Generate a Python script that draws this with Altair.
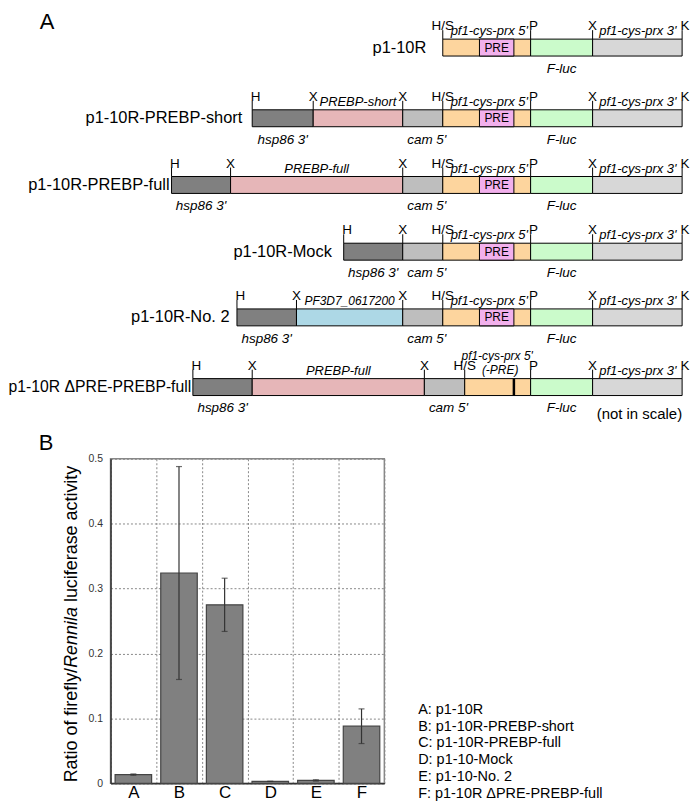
import altair as alt
import pandas as pd

FONT = "Liberation Sans"

# ---------------- Panel A: construct maps ----------------
constructs = ["p1-10R", "p1-10R-PREBP-short", "p1-10R-PREBP-full",
              "p1-10R-Mock", "p1-10R-No. 2", "p1-10R \u0394PRE-PREBP-full"]
row_top = [33.5, 104.5, 171.5, 238.5, 304.5, 374.5]
name_end = [430, 243, 169, 334, 230, 191]

seg_row = [0, 0, 0, 0,
           1, 1, 1, 1, 1, 1, 1,
           2, 2, 2, 2, 2, 2, 2,
           3, 3, 3, 3, 3, 3,
           4, 4, 4, 4, 4, 4, 4,
           5, 5, 5, 5, 5, 5]
seg_start = [446.7, 484, 536, 599,
             253, 315, 406, 446.7, 484, 536, 599,
             171, 231, 406, 446.7, 484, 536, 599,
             346, 406, 446.7, 484, 536, 599,
             237.5, 298, 406, 446.7, 484, 536, 599,
             192.7, 253, 428, 469, 536, 599]
seg_end = [536, 519, 599, 690,
           315, 406, 446.7, 536, 519, 599, 690,
           231, 406, 446.7, 536, 519, 599, 690,
           406, 446.7, 536, 519, 599, 690,
           298, 406, 446.7, 536, 519, 599, 690,
           253, 428, 469, 536, 599, 690]
seg_part = ["prx5", "PRE", "Fluc", "prx3",
            "hsp86", "PREBP", "cam", "prx5", "PRE", "Fluc", "prx3",
            "hsp86", "PREBP", "cam", "prx5", "PRE", "Fluc", "prx3",
            "hsp86", "cam", "prx5", "PRE", "Fluc", "prx3",
            "hsp86", "PF3D7", "cam", "prx5", "PRE", "Fluc", "prx3",
            "hsp86", "PREBP", "cam", "prx5", "Fluc", "prx3"]
part_names = ["prx5", "PRE", "Fluc", "prx3", "hsp86", "PREBP", "cam", "PF3D7"]
part_colors = ["#FDD59E", "#F2B0EC", "#CBFBCB", "#D7D7D7",
               "#808080", "#E6B6B8", "#BEBEBE", "#ADD8E6"]

site_row = [0, 0, 0, 0,
            1, 1, 1, 1, 1, 1, 1,
            2, 2, 2, 2, 2, 2, 2,
            3, 3, 3, 3, 3, 3,
            4, 4, 4, 4, 4, 4, 4,
            5, 5, 5, 5, 5, 5, 5]
site_x = [446.7, 536, 599, 690,
          253, 315, 406, 446.7, 536, 599, 690,
          171, 231, 406, 446.7, 536, 599, 690,
          346, 406, 446.7, 536, 599, 690,
          237.5, 298, 406, 446.7, 536, 599, 690,
          192.7, 253, 428, 469, 536, 599, 690]
site_label = ["H/S", "P", "X", "K",
              "H", "X", "X", "H/S", "P", "X", "K",
              "H", "X", "X", "H/S", "P", "X", "K",
              "H", "X", "H/S", "P", "X", "K",
              "H", "X", "X", "H/S", "P", "X", "K",
              "H", "X", "X", "H/S", "P", "X", "K"]

above_row = [0, 0, 1, 1, 1, 2, 2, 2, 3, 3, 4, 4, 4, 5, 5, 5, 5]
above_x = [494, 645, 360.5, 494, 645, 318.5, 494, 645,
           494, 645, 352, 494, 645, 340.5, 502, 505, 645]
above_text = ["pf1-cys-prx 5'", "pf1-cys-prx 3'",
              "PREBP-short", "pf1-cys-prx 5'", "pf1-cys-prx 3'",
              "PREBP-full", "pf1-cys-prx 5'", "pf1-cys-prx 3'",
              "pf1-cys-prx 5'", "pf1-cys-prx 3'",
              "PF3D7_0617200", "pf1-cys-prx 5'", "pf1-cys-prx 3'",
              "PREBP-full", "pf1-cys-prx 5'", "(-PRE)", "pf1-cys-prx 3'"]
above_tier = [0, 0, 0, 0, 0, 0, 0, 0, 0, 0, 0, 0, 0, 0, 2, 1, 0]

below_row = [0, 1, 1, 1, 2, 2, 2, 3, 3, 3, 4, 4, 4, 5, 5, 5]
below_x = [567.5, 284, 430.5, 567.5, 201, 430.5, 567.5, 376, 430.5, 567.5,
           267.7, 430.5, 567.5, 222.9, 452.5, 567.5]
below_text = ["F-luc", "hsp86 3'", "cam 5'", "F-luc", "hsp86 3'", "cam 5'", "F-luc",
              "hsp86 3'", "cam 5'", "F-luc", "hsp86 3'", "cam 5'", "F-luc",
              "hsp86 3'", "cam 5'", "F-luc"]

junction_row = [5]
junction_x = [519]

# ---------------- Panel B: luciferase ratio ----------------
cats = ["A", "B", "C", "D", "E", "F"]
means = [0.0135, 0.324, 0.275, 0.003, 0.0045, 0.088]
errs = [0.001, 0.164, 0.041, 0.0, 0.001, 0.0267]
legend_lines = ["A: p1-10R", "B: p1-10R-PREBP-short", "C: p1-10R-PREBP-full",
                "D: p1-10-Mock", "E: p1-10-No. 2", "F: p1-10R \u0394PRE-PREBP-full"]
ytitle_parts = ["Ratio of firefly/", "Rennila", "luciferase activity"]

# ---------------- layout constants ----------------
ORIG_X = 109          # page x of both panels' origin (bar-plot left edge)
BAR_H = 17
H_TOP = 416
W_TOP = 581
xs = alt.Scale(domain=[ORIG_X, 697], nice=False, zero=False)
ys = alt.Scale(domain=[8, 8 + H_TOP], nice=False, zero=False, reverse=True)


def X(f):
    return alt.X(f, scale=xs, axis=None)


def Y(f):
    return alt.Y(f, scale=ys, axis=None)


seg_df = pd.DataFrame({"row": seg_row, "x0": seg_start, "x1": seg_end, "part": seg_part})
seg_df["y0"] = [row_top[r] for r in seg_row]
seg_df["y1"] = seg_df["y0"] + BAR_H

pre_df = seg_df[seg_df["part"] == "PRE"].copy()
pre_df["xc"] = (pre_df["x0"] + pre_df["x1"]) / 2
pre_df["yc"] = pre_df["y0"] + BAR_H / 2

site_df = pd.DataFrame({"row": site_row, "x": site_x, "label": site_label})
site_df["yb"] = [row_top[r] for r in site_row]
site_df["yt"] = site_df["yb"] - 9
site_df["left"] = site_df["label"].isin(["H", "P", "K"])

tier_off = {0: 4, 1: 5, 2: 19}
above_df = pd.DataFrame({"row": above_row, "x": above_x, "text": above_text, "tier": above_tier})
above_df["y"] = [row_top[r] - tier_off[t] for r, t in zip(above_row, above_tier)]
above_df["small"] = (above_df["text"].str.startswith("PF3D7")) | (above_df["tier"] > 0)

below_df = pd.DataFrame({"row": below_row, "x": below_x, "text": below_text})
below_df["y"] = [row_top[r] + BAR_H + 17 for r in below_row]

jun_df = pd.DataFrame({"x": junction_x, "y0": [row_top[r] for r in junction_row]})
jun_df["y1"] = jun_df["y0"] + BAR_H

name_df = pd.DataFrame({"x": name_end, "text": constructs,
                        "y": [t + BAR_H / 2 for t in row_top]})
name_df["small"] = name_df["text"].str.contains("\u0394")

annot_df = pd.DataFrame({"x": [37], "y": [23], "text": ["A"]})
note_df = pd.DataFrame({"x": [690], "y": [415], "text": ["(not in scale)"]})

rects = alt.Chart(seg_df).mark_rect(stroke="black", strokeWidth=1).encode(
    x=X("x0:Q"), x2="x1", y=Y("y0:Q"), y2="y1",
    color=alt.Color("part:N", scale=alt.Scale(domain=part_names, range=part_colors), legend=None))
pre_txt = alt.Chart(pre_df).mark_text(text="PRE", fontSize=12, baseline="middle", font=FONT).encode(
    x=X("xc:Q"), y=Y("yc:Q"))
jun = alt.Chart(jun_df).mark_rule(color="black", strokeWidth=2.5).encode(
    x=X("x:Q"), y=Y("y0:Q"), y2="y1")
ticks = alt.Chart(site_df).mark_rule(color="black", strokeWidth=1).encode(
    x=X("x:Q"), y=Y("yt:Q"), y2="yb")
site_l = alt.Chart(site_df[site_df["left"]]).mark_text(
    align="left", baseline="alphabetic", dx=-1.5, fontSize=13.5, font=FONT).encode(
    x=X("x:Q"), y=Y("yt:Q"), text="label:N")
site_c = alt.Chart(site_df[~site_df["left"]]).mark_text(
    align="center", baseline="alphabetic", fontSize=13.5, font=FONT).encode(
    x=X("x:Q"), y=Y("yt:Q"), text="label:N")
above_n = alt.Chart(above_df[~above_df["small"]]).mark_text(
    align="center", baseline="alphabetic", fontSize=13, fontStyle="italic", font=FONT).encode(
    x=X("x:Q"), y=Y("y:Q"), text="text:N")
above_s = alt.Chart(above_df[above_df["small"]]).mark_text(
    align="center", baseline="alphabetic", fontSize=12, fontStyle="italic", font=FONT).encode(
    x=X("x:Q"), y=Y("y:Q"), text="text:N")
below = alt.Chart(below_df).mark_text(
    align="center", baseline="alphabetic", fontSize=13.5, fontStyle="italic", font=FONT).encode(
    x=X("x:Q"), y=Y("y:Q"), text="text:N")
names_n = alt.Chart(name_df[~name_df["small"]]).mark_text(
    align="right", baseline="middle", fontSize=16.5, font=FONT).encode(
    x=X("x:Q"), y=Y("y:Q"), text="text:N")
names_s = alt.Chart(name_df[name_df["small"]]).mark_text(
    align="right", baseline="middle", fontSize=15.8, font=FONT).encode(
    x=X("x:Q"), y=Y("y:Q"), text="text:N")
letter_a = alt.Chart(annot_df).mark_text(
    align="left", baseline="alphabetic", fontSize=22, font=FONT).encode(
    x=X("x:Q"), y=Y("y:Q"), text="text:N")
note = alt.Chart(note_df).mark_text(
    align="right", baseline="alphabetic", fontSize=15, font=FONT).encode(
    x=X("x:Q"), y=Y("y:Q"), text="text:N")

top = alt.layer(rects, jun, pre_txt, ticks, site_l, site_c, above_n, above_s, below,
                names_n, names_s, letter_a, note).properties(width=W_TOP, height=H_TOP)

# ---------------- build panel B ----------------
PLOT_W = 275
PLOT_H = 326
bar_df = pd.DataFrame({"cat": cats, "mean": means,
                       "lo": [m - e for m, e in zip(means, errs)],
                       "hi": [m + e for m, e in zip(means, errs)]})
yscale = alt.Scale(domain=[0, 0.5], nice=False, zero=True)
xb = alt.X("cat:N", scale=alt.Scale(paddingInner=0, paddingOuter=0),
           axis=alt.Axis(title=None, labelAngle=0, labelFontSize=17, labelColor="black",
                         labelPadding=1, ticks=False, domainColor="#333", domainWidth=1.5,
                         grid=True, gridDash=[2, 2], gridColor="#888", gridWidth=1,
                         tickBand="extent"))
yaxis = alt.Axis(title=None, values=[0, 0.1, 0.2, 0.3, 0.4, 0.5],
                 labelExpr="datum.value == 0 ? '0' : format(datum.value, '.1f')",
                 labelFontSize=10.5, labelColor="#333", ticks=False, labelPadding=8,
                 domainColor="#333", domainWidth=1.5, grid=True, gridDash=[2, 2],
                 gridColor="#888", gridWidth=1)

base = alt.Chart(bar_df).encode(x=xb)
bars = base.mark_bar(width=alt.RelativeBandSize(0.8), color="#808080",
                     stroke="#444", strokeWidth=1.2).encode(
    y=alt.Y("mean:Q", scale=yscale, axis=yaxis))
err = base.mark_rule(color="#333", strokeWidth=1.2).encode(
    y=alt.Y("lo:Q", scale=yscale), y2="hi")
cap_hi = base.mark_tick(color="#333", size=6, thickness=1.2).encode(
    y=alt.Y("hi:Q", scale=yscale))
cap_lo = base.mark_tick(color="#333", size=6, thickness=1.2).encode(
    y=alt.Y("lo:Q", scale=yscale))

one = pd.DataFrame({"t": [""]})
FS_T = 18
w1 = 6.391 * FS_T
w2 = 3.39 * FS_T + 0.278 * FS_T
yt0 = 325
TX = -34
t1 = alt.Chart(pd.DataFrame({"t": [ytitle_parts[0]]})).mark_text(
    angle=270, align="left", baseline="alphabetic", fontSize=FS_T, font=FONT).encode(
    text="t:N", x=alt.value(TX), y=alt.value(yt0))
t2 = alt.Chart(pd.DataFrame({"t": [ytitle_parts[1]]})).mark_text(
    angle=270, align="left", baseline="alphabetic", fontSize=FS_T, fontStyle="italic",
    font=FONT).encode(text="t:N", x=alt.value(TX), y=alt.value(yt0 - w1))
t3 = alt.Chart(pd.DataFrame({"t": [ytitle_parts[2]]})).mark_text(
    angle=270, align="left", baseline="alphabetic", fontSize=FS_T, font=FONT).encode(
    text="t:N", x=alt.value(TX), y=alt.value(yt0 - w1 - w2))
letter_b = alt.Chart(pd.DataFrame({"t": ["B"]})).mark_text(
    align="left", baseline="alphabetic", fontSize=22, font=FONT).encode(
    text="t:N", x=alt.value(-72), y=alt.value(-9))
legend = alt.Chart(pd.DataFrame({"t": ["\n".join(legend_lines)]})).mark_text(
    align="left", baseline="top", fontSize=14.5, lineHeight=17, lineBreak="\n",
    font=FONT).encode(text="t:N", x=alt.value(309), y=alt.value(245))
anchor = alt.Chart(one).mark_rule(strokeOpacity=0, color="white").encode(
    x=alt.value(-101), x2=alt.value(-100), y=alt.value(-30), y2=alt.value(-29))

bottom = alt.layer(anchor, bars, err, cap_hi, cap_lo, t1, t2, t3, letter_b, legend).properties(
    width=PLOT_W, height=PLOT_H, view=alt.ViewBackground(stroke="#888", strokeWidth=1.5))

chart = alt.vconcat(top, bottom, spacing=0).properties(padding=0).configure_view(
    strokeWidth=0).configure_axis(labelFont=FONT).configure_text(font=FONT)

chart.save("out.html", embed_options={"renderer": "svg", "actions": False})
